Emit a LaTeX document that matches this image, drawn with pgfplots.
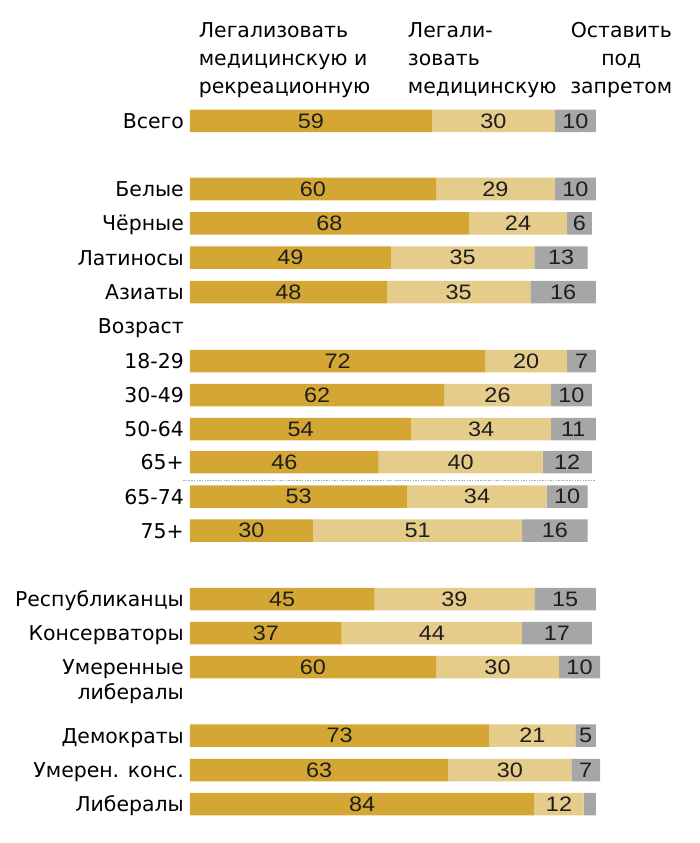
\documentclass[border=0pt]{standalone}
\usepackage{pgfplots}
\usepackage{pgfplotstable}
\pgfplotsset{compat=1.18}
\usepackage{fontspec}
\setmainfont{DejaVu Sans}
\newfontfamily\numfont[FakeStretch=1.12]{Liberation Sans}
\definecolor{cdark}{RGB}{212,166,52}
\definecolor{clight}{RGB}{229,204,138}
\definecolor{cgray}{RGB}{166,166,166}
\definecolor{ctext}{RGB}{30,30,30}
\definecolor{cdots}{RGB}{170,178,192}
\newcommand{\lbl}{\fontsize{20.5}{25}\selectfont}

\pgfplotstableread{
y a b c lc
121 59 30 10 10
189 60 29 10 10
223.3 68 24 6 6
257.5 49 35 13 13
292 48 35 16 16
361 72 20 7 7
395 62 26 10 10
429 54 34 11 11
462 46 40 12 12
496.5 53 34 10 10
530.5 30 51 16 16
599 45 39 15 15
633 37 44 17 17
667 60 30 10 10
735.5 73 21 5 5
770 63 30 7 7
804 84 12 3 {}
}\data
\pgfplotstablecreatecol[create col/expr={\thisrow{a}/2}]{ma}{\data}
\pgfplotstablecreatecol[create col/expr={\thisrow{a}+\thisrow{b}/2}]{mb}{\data}
\pgfplotstablecreatecol[create col/expr={\thisrow{a}+\thisrow{b}+\thisrow{c}/2}]{mc}{\data}

\pgfplotsset{common/.style={
  scale only axis, width=410bp, height=843bp,
  xmin=0, xmax=100, ymin=0, ymax=843, y dir=reverse, clip=false}}

\begin{document}
\begin{tikzpicture}
\begin{axis}[common,
  xbar stacked, bar width=22.5bp,
  axis x line=none, axis y line*=left,
  y axis line style={draw=none},
  ytick={121,189,223.3,257.5,292,326,361,395,429,462,496.5,530.5,599,633,667,735.5,770,804},
  yticklabels={Всего,Белые,Чёрные,Латиносы,Азиаты,Возраст,18-29,30-49,50-64,65+,65-74,75+,Республиканцы,Консерваторы,{\begin{tabular}[t]{@{}r@{}}Умеренные\\либералы\end{tabular}},Демократы,Умерен. конс.,Либералы},
  major tick length=0pt,
  yticklabel style={font=\lbl, anchor=base east, yshift=-7.5bp, inner sep=0pt, xshift=-6bp, text=black},
]
\addplot[fill=cdark, draw=none] table[x=a, y=y] {\data};
\addplot[fill=clight, draw=none] table[x=b, y=y] {\data};
\addplot[fill=cgray, draw=none] table[x=c, y=y] {\data};
\draw[cdots, line width=1.5bp, dash pattern=on 1.5bp off 1.2bp] (axis cs:-1.7,480.7) -- (axis cs:99,480.7);
\node[anchor=base west, font=\lbl] at (axis cs:1.3,38) {Легализовать};
\node[anchor=base west, font=\lbl] at (axis cs:1.3,66) {медицинскую и};
\node[anchor=base west, font=\lbl] at (axis cs:1.3,94) {рекреационную};
\node[anchor=base west, font=\lbl] at (axis cs:52.3,38) {Легали-};
\node[anchor=base west, font=\lbl] at (axis cs:52.3,66) {зовать};
\node[anchor=base west, font=\lbl] at (axis cs:52.3,94) {медицинскую};
\node[anchor=base, font=\lbl] at (axis cs:105.2,38) {Оставить};
\node[anchor=base, font=\lbl] at (axis cs:105.2,66) {под};
\node[anchor=base, font=\lbl] at (axis cs:105.2,94) {запретом};
\end{axis}
\begin{axis}[common, hide axis,
  nodes near coords, point meta=explicit symbolic,
  every node near coord/.style={anchor=center, inner sep=0pt, text=ctext, font=\numfont\fontsize{21}{21}\selectfont}]
\addplot[only marks, mark=*, mark size=0pt, mark options={draw=none, fill=none}] table[x=ma, y=y, meta=a] {\data};
\addplot[only marks, mark=*, mark size=0pt, mark options={draw=none, fill=none}] table[x=mb, y=y, meta=b] {\data};
\addplot[only marks, mark=*, mark size=0pt, mark options={draw=none, fill=none}] table[x=mc, y=y, meta=lc] {\data};
\end{axis}
\pgfresetboundingbox
\path (-190bp,0) rectangle (510bp,843bp);
\end{tikzpicture}
\end{document}
